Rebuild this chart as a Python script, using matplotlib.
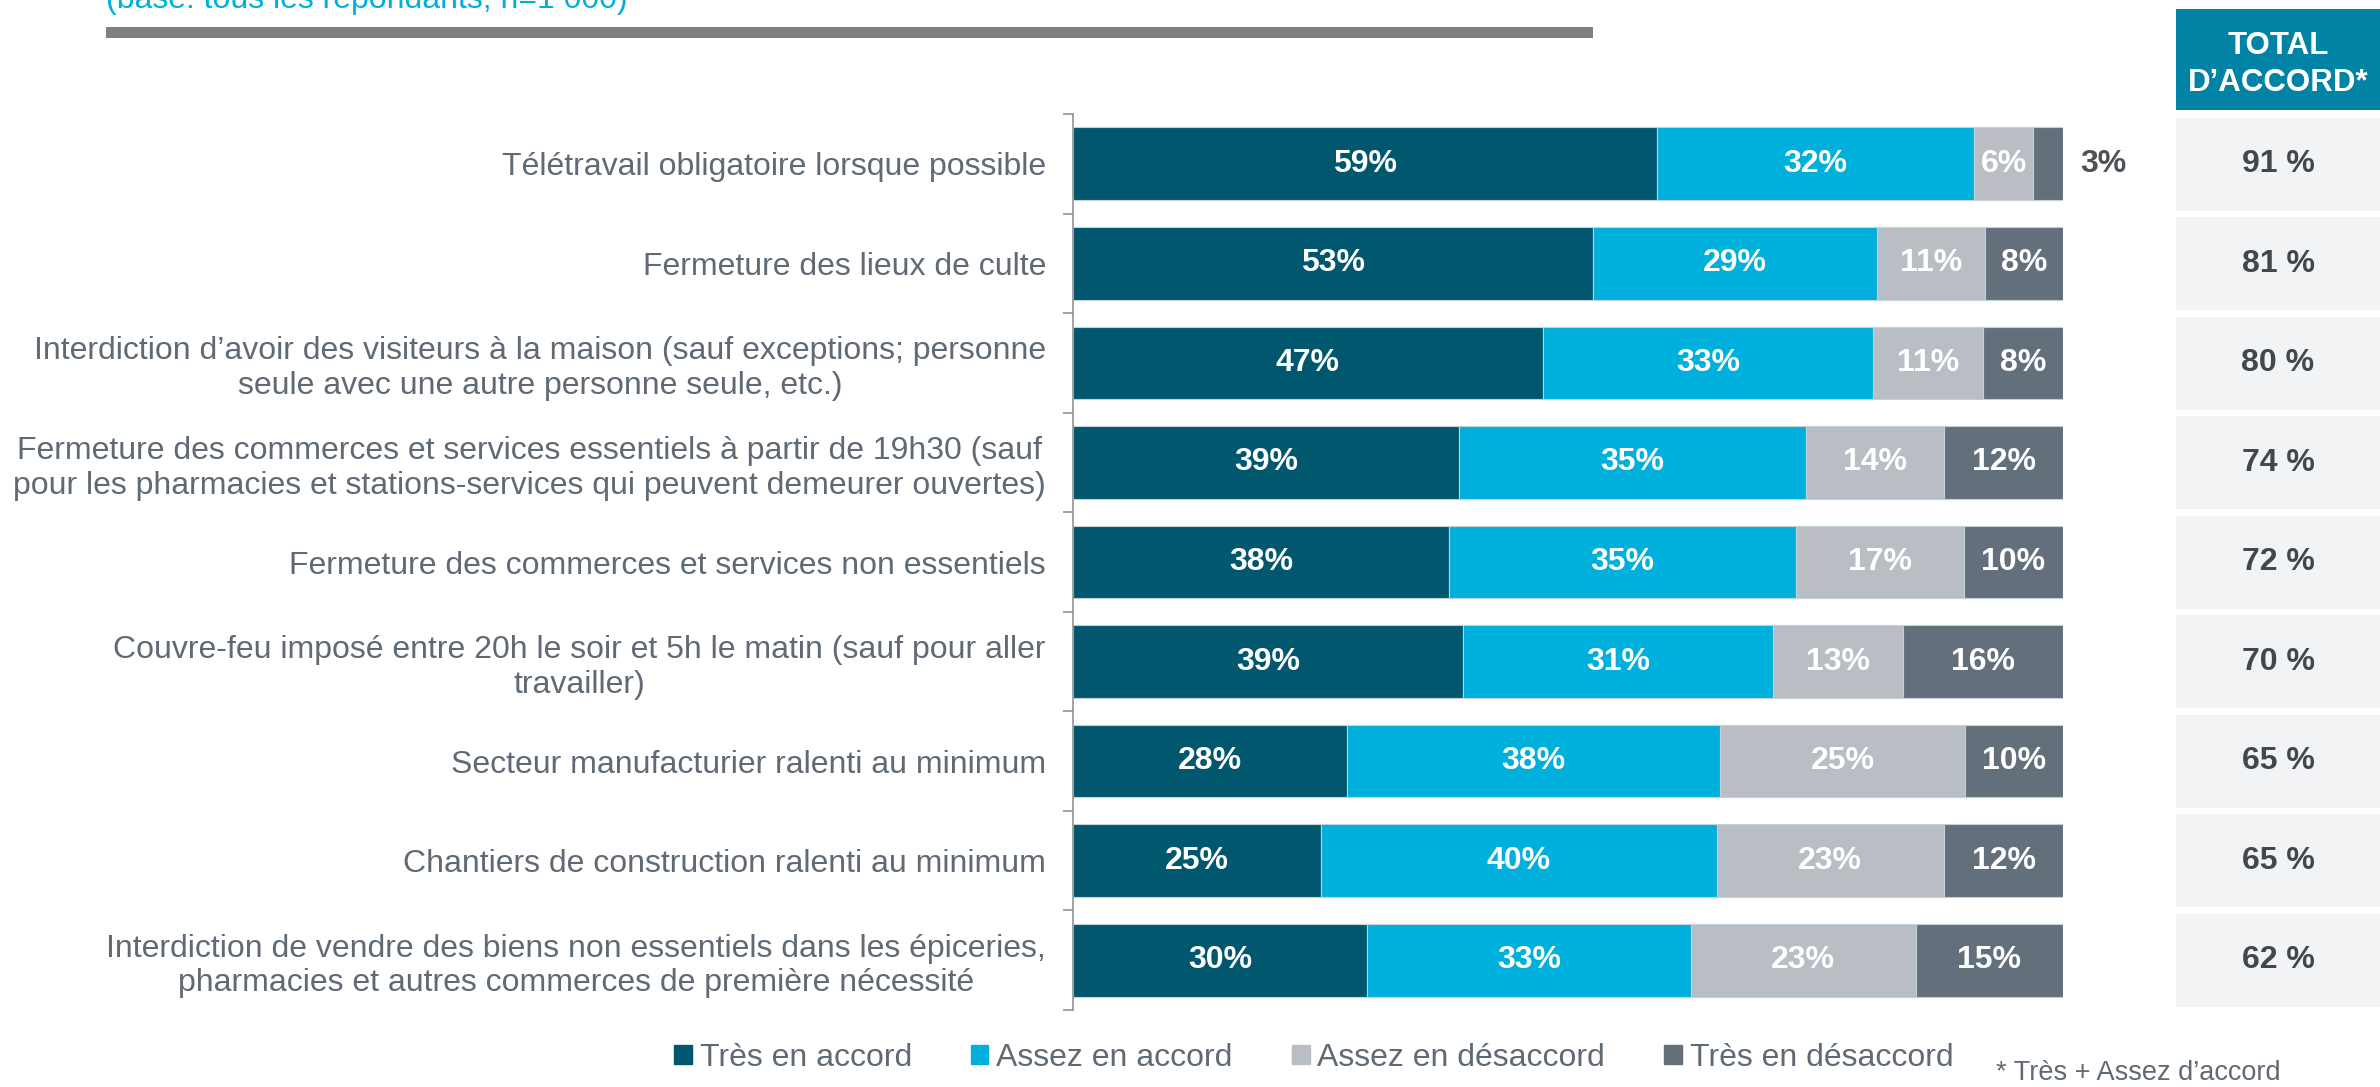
import matplotlib
matplotlib.use('Agg')
import matplotlib.pyplot as plt
from matplotlib.patches import Patch, Rectangle
import numpy as np

categories = [
    "Télétravail obligatoire lorsque possible",
    "Fermeture des lieux de culte",
    "Interdiction d’avoir des visiteurs à la maison (sauf exceptions; personne\nseule avec une autre personne seule, etc.)",
    "Fermeture des commerces et services essentiels à partir de 19h30 (sauf\npour les pharmacies et stations-services qui peuvent demeurer ouvertes)",
    "Fermeture des commerces et services non essentiels",
    "Couvre-feu imposé entre 20h le soir et 5h le matin (sauf pour aller\ntravailler)",
    "Secteur manufacturier ralenti au minimum",
    "Chantiers de construction ralenti au minimum",
    "Interdiction de vendre des biens non essentiels dans les épiceries,\npharmacies et autres commerces de première nécessité",
]
tres_accord = [59, 53, 47, 39, 38, 39, 28, 25, 30]
assez_accord = [32, 29, 33, 35, 35, 31, 38, 40, 33]
assez_desaccord = [6, 11, 11, 14, 17, 13, 25, 23, 23]
tres_desaccord = [3, 8, 8, 12, 10, 16, 10, 12, 15]
total_accord = [91, 81, 80, 74, 72, 70, 65, 65, 62]

series_names = ["Très en accord", "Assez en accord", "Assez en désaccord", "Très en désaccord"]
colors = ['#00576E', '#00B0DC', '#B8BEC4', '#636F7A']

subtitle = "(base: tous les répondants, n=1 000)"
total_header = "TOTAL\nD’ACCORD*"
footnote = "* Très + Assez d’accord"

plt.rcParams['font.family'] = ['Liberation Sans', 'DejaVu Sans']
text_gray = '#5F6A74'

W, H = 2380, 1087
fig = plt.figure(figsize=(W / 100, H / 100), dpi=100)

ax = fig.add_axes([1073 / W, 77 / H, 990 / W, 896 / H])
data = np.array([tres_accord, assez_accord, assez_desaccord, tres_desaccord], dtype=float)
shares = data / data.sum(axis=0)
y = np.arange(len(categories))
left = np.zeros(len(categories))
for k in range(4):
    ax.barh(y, shares[k], left=left, height=0.73, color=colors[k],
            edgecolor='#c3d0d8', linewidth=0.8)
    for i in range(len(categories)):
        val = int(data[k, i])
        if val < 5:
            ax.text(1.017, y[i], f"{val}%", ha='left', va='center', fontsize=23,
                    fontweight='bold', color='#4D5257', clip_on=False)
        else:
            ax.text(left[i] + shares[k, i] / 2, y[i], f"{val}%", ha='center', va='center',
                    fontsize=23, fontweight='bold', color='white')
    left += shares[k]

ax.set_xlim(0, 1)
ax.set_ylim(len(categories) - 0.5, -0.5)
ax.set_xticks([])
ax.set_yticks(y)
ax.set_yticklabels(categories, fontsize=23, color=text_gray)
for lab in ax.get_yticklabels():
    lab.set_multialignment('center')
ax.set_yticks(np.arange(-0.5, len(categories), 1), minor=True)
ax.tick_params(axis='y', which='major', length=0, pad=19.5)
ax.tick_params(axis='y', which='minor', length=7, width=1.1, color='#8A8A8A', direction='out')
for s in ['top', 'right', 'bottom']:
    ax.spines[s].set_visible(False)
ax.spines['left'].set_color('#8A8A8A')
ax.spines['left'].set_linewidth(1.1)

# total column
ax2 = fig.add_axes([2176 / W, 77 / H, 204 / W, 1001 / H])
ax2.set_xlim(0, 1)
ax2.set_ylim(len(categories) - 0.5, -1.56)
ax2.barh(y, 1, left=0, height=0.935, color='#F2F3F5')
ax2.barh(-1.048, 1, left=0, height=1.015, color='#0083A4')
ax2.text(0.5, -1.0, total_header, ha='center', va='center', fontsize=22.5,
         fontweight='bold', color='white', linespacing=1.3)
for i, t in enumerate(total_accord):
    ax2.text(0.5, y[i], f"{t} %", ha='center', va='center', fontsize=23,
             fontweight='bold', color='#40474F')
ax2.axis('off')

# header line and subtitle
fig.add_artist(Rectangle((106 / W, 1 - 38 / H), 1487 / W, 11 / H, transform=fig.transFigure,
                         color='#808080', linewidth=0))
fig.text(106 / W, 1 - 8 / H, subtitle, ha='left', va='baseline', fontsize=23, color='#00B0DC')

handles = [Patch(color=c) for c in colors]
fig.legend(handles, series_names, loc='center left', bbox_to_anchor=(674 / W, 1 - 1058 / H),
           ncol=4, frameon=False, fontsize=23, labelcolor=text_gray, handlelength=0.55,
           handleheight=0.55, handletextpad=0.25, columnspacing=1.85, borderpad=0,
           borderaxespad=0)
fig.text(1996 / W, 1 - 1073 / H, footnote, ha='left', va='center', fontsize=19.5, color=text_gray)

fig.savefig('out.png', dpi=100)
